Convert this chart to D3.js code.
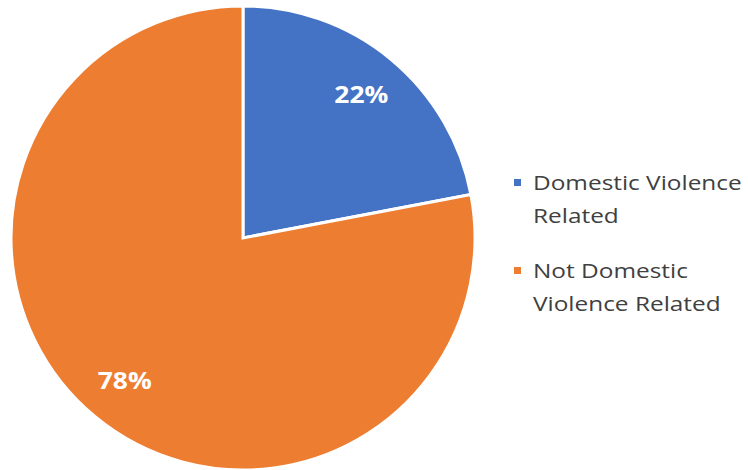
<!DOCTYPE html>
<html>
<head>
<meta charset="utf-8">
<script src="https://cdn.jsdelivr.net/npm/d3@7"></script>
<style>
  body { margin: 0; background: #fff; }
  svg text { font-family: "Open Sans", sans-serif; }
</style>
</head>
<body>
<div id="chart-container"></div>
<script>
const categories = ["Domestic Violence Related", "Not Domestic Violence Related"];
const values = [22, 78];
const valueLabels = ["22%", "78%"];
const legendLines = [["Domestic Violence", "Related"], ["Not Domestic", "Violence Related"]];
const colors = ["#4472C4", "#ED7D31"];

const width = 748, height = 470;
const cx = 243, cy = 238, radius = 232;

const svg = d3.select("#chart-container").append("svg")
    .attr("width", width)
    .attr("height", height);

const pieGroup = svg.append("g")
    .attr("transform", `translate(${cx}, ${cy})`);

const pie = d3.pie().sort(null).value(d => d);
const arc = d3.arc().innerRadius(0).outerRadius(radius);
const labelArc = d3.arc().innerRadius(radius * 0.8).outerRadius(radius * 0.8);

const arcs = pie(values);

pieGroup.selectAll("path")
    .data(arcs)
    .enter()
    .append("path")
    .attr("d", arc)
    .attr("fill", (d, i) => colors[i])
    .attr("stroke", "#fff")
    .attr("stroke-width", 3)
    .attr("stroke-linejoin", "miter");

// labels are a bit wider than Open Sans, stretch horizontally
pieGroup.selectAll(".value-label")
    .data(arcs)
    .enter()
    .append("text")
    .attr("class", "value-label")
    .attr("transform", d => `translate(${labelArc.centroid(d)}) scale(1.1, 1)`)
    .attr("text-anchor", "middle")
    .attr("dy", "0.35em")
    .attr("fill", "#fff")
    .attr("font-weight", "bold")
    .attr("font-size", 24)
    .text((d, i) => valueLabels[i]);

// legend
const legend = svg.append("g").attr("transform", "translate(514, 0)");
const legendY = [183, 271];

const items = legend.selectAll(".legend-item")
    .data(categories)
    .enter()
    .append("g")
    .attr("class", "legend-item")
    .attr("transform", (d, i) => `translate(0, ${legendY[i]})`);

items.append("rect")
    .attr("x", 0)
    .attr("y", -4)
    .attr("width", 7)
    .attr("height", 7)
    .attr("fill", (d, i) => colors[i]);

items.append("text")
    .attr("transform", "translate(19, 0) scale(1.22, 1)")
    .attr("font-size", 20)
    .attr("fill", "#404040")
    .each(function(d, i) {
        d3.select(this).selectAll("tspan")
            .data(legendLines[i])
            .enter()
            .append("tspan")
            .attr("x", 0)
            .attr("dy", (t, j) => j === 0 ? "0.35em" : "1.65em")
            .text(t => t);
    });
</script>
</body>
</html>
